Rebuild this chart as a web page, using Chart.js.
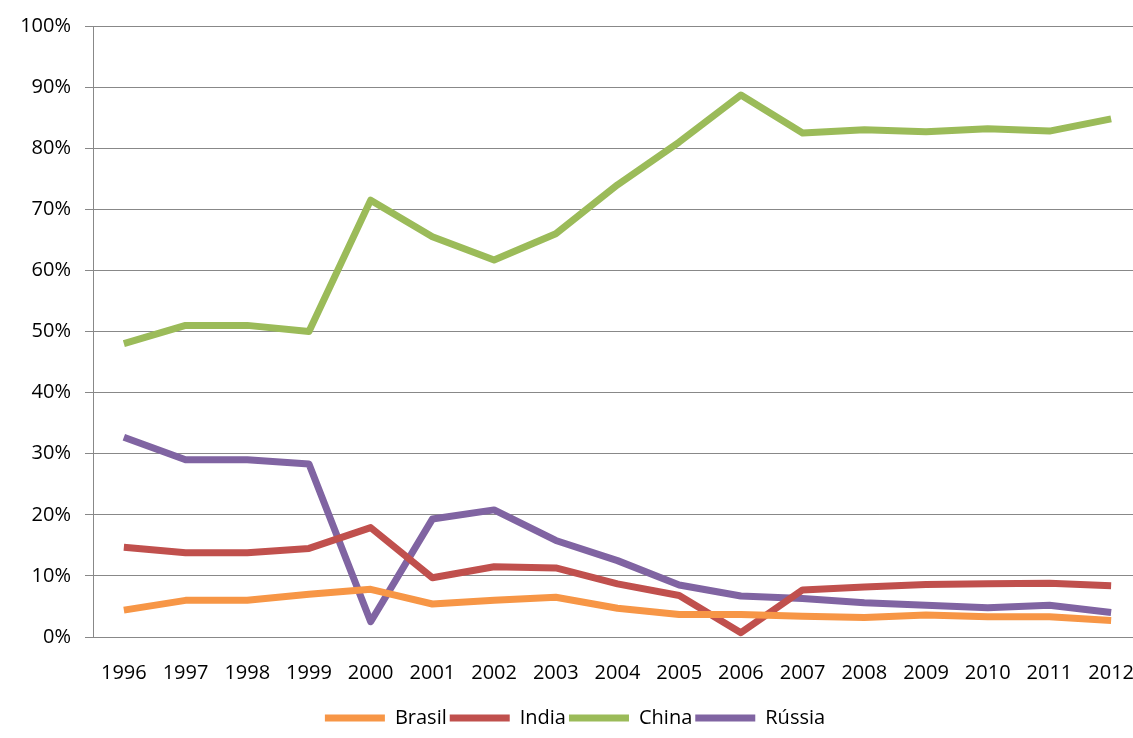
<!DOCTYPE html>
<html>
<head>
<meta charset="UTF-8">
<script src="https://cdn.jsdelivr.net/npm/chart.js"></script>
<style>
  html, body { margin: 0; padding: 0; background: #fff; overflow: hidden; }
  #wrap { width: 1150px; height: 738px; }
</style>
</head>
<body>
<div id="wrap"><canvas id="c"></canvas></div>
<script>
  const years = ['1996','1997','1998','1999','2000','2001','2002','2003','2004','2005','2006','2007','2008','2009','2010','2011','2012'];
  const brasil = [4.4, 6, 6, 7, 7.8, 5.4, 6, 6.5, 4.7, 3.7, 3.7, 3.4, 3.2, 3.6, 3.3, 3.3, 2.7];
  const india = [14.7, 13.8, 13.8, 14.5, 17.9, 9.7, 11.5, 11.3, 8.7, 6.8, 0.7, 7.7, 8.2, 8.6, 8.7, 8.8, 8.4];
  const china = [48, 51, 51, 50, 71.5, 65.5, 61.7, 66, 74, 81, 88.7, 82.5, 83, 82.7, 83.2, 82.8, 84.8];
  const russia = [32.7, 29, 29, 28.3, 2.5, 19.3, 20.8, 15.8, 12.5, 8.5, 6.7, 6.3, 5.6, 5.2, 4.8, 5.2, 4];

  function ds(label, data, color) {
    return { label, data, borderColor: color, backgroundColor: color, borderWidth: 7,
      pointRadius: 0, tension: 0, borderJoinStyle: 'round' };
  }

  new Chart(document.getElementById('c'), {
    type: 'line',
    data: {
      labels: years,
      datasets: [
        ds('Brasil', brasil, '#F79646'),
        ds('India', india, '#C0504D'),
        ds('China', china, '#9BBB59'),
        ds('Rússia', russia, '#8064A2')
      ]
    },
    options: {
      responsive: true,
      maintainAspectRatio: false,
      animation: false,
      layout: { padding: { top: 20, right: 0, left: 0, bottom: 0 } },
      scales: {
        x: {
          offset: true,
          grid: { display: false },
          border: { color: '#888' },
          ticks: { color: '#000', font: { family: 'Open Sans', size: 20 }, maxRotation: 0, autoSkip: false, padding: 16 },
          afterFit: s => { s.height = 68; }
        },
        y: {
          min: 0, max: 100,
          ticks: { stepSize: 10, color: '#000', font: { family: 'Open Sans', size: 20 }, callback: v => v + '%', padding: 14 },
          grid: { color: '#888', tickLength: 8 },
          border: { color: '#888' },
          afterFit: s => { s.width = 93; }
        }
      },
      plugins: {
        legend: {
          position: 'bottom',
          labels: { usePointStyle: true, pointStyle: 'line', pointStyleWidth: 60, boxWidth: 60, padding: 3,
            color: '#000', font: { family: 'Open Sans', size: 20 } }
        },
        tooltip: { enabled: false }
      }
    }
  });
</script>
</body>
</html>
